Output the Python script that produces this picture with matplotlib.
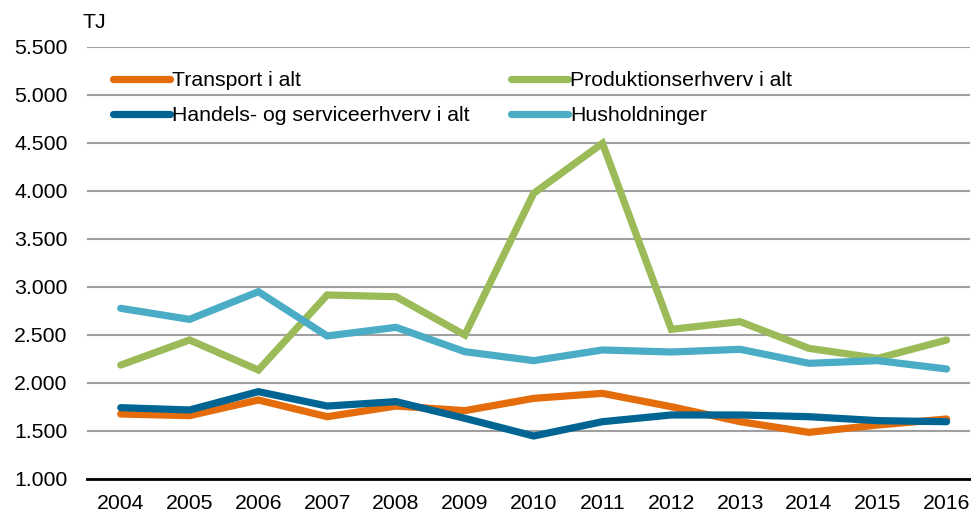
import matplotlib
matplotlib.use("Agg")
import matplotlib.pyplot as plt
from matplotlib.ticker import FuncFormatter

years = [str(y) for y in range(2004, 2017)]

transport = [1677, 1660, 1823, 1649, 1760, 1712, 1840, 1892, 1753, 1597, 1486, 1562, 1625]
produktion = [2187, 2448, 2135, 2917, 2899, 2500, 3976, 4497, 2559, 2639, 2361, 2257, 2448]
handel = [1743, 1719, 1910, 1760, 1806, 1632, 1448, 1597, 1667, 1667, 1649, 1608, 1597]
husholdninger = [2778, 2663, 2951, 2490, 2580, 2326, 2233, 2344, 2323, 2351, 2205, 2233, 2146]

labels = ["Transport i alt", "Handels- og serviceerhverv i alt",
          "Produktionserhverv i alt", "Husholdninger"]
colors = ["#E46C0A", "#006593", "#9BBB59", "#4BACC6"]

plt.rcParams["font.family"] = ["Liberation Sans", "DejaVu Sans"]
plt.rcParams["font.size"] = 15.3


def main():
    fig = plt.figure(figsize=(9.71, 5.13), dpi=100)
    W, H = 971, 513
    ax = fig.add_axes([87 / W, 1 - 479 / H, (970 - 87) / W, (479 - 47) / H])

    x = list(range(len(years)))
    handles = []
    for data, lab, col in zip([transport, handel, produktion, husholdninger],
                              labels, colors):
        h, = ax.plot(x, data, color=col, lw=5.2, solid_capstyle="round",
                     solid_joinstyle="miter", label=lab)
        handles.append(h)

    ax.set_xlim(-0.49, 12.34)
    ax.set_ylim(1000, 5500)
    ax.set_yticks(range(1000, 5501, 500))
    ax.yaxis.set_major_formatter(
        FuncFormatter(lambda v, p: f"{v:,.0f}".replace(",", ".")))
    ax.set_xticks(x)
    ax.set_xticklabels(years)
    ax.tick_params(axis="y", length=0, pad=14, colors="#000000")
    ax.tick_params(axis="x", length=0, pad=11)

    for s in ["top", "right", "left"]:
        ax.spines[s].set_visible(False)
    ax.spines["bottom"].set_linewidth(2)
    ax.spines["bottom"].set_color("#000000")

    ax.grid(axis="y", color="#A0A0A0", lw=1.5)
    ax.set_axisbelow(True)

    fig.text(82 / W, 1 - 22 / H, "TJ", ha="left", va="center", fontsize=15.3)

    ax.legend(handles=handles, ncol=2, frameon=False,
              loc="upper left", bbox_to_anchor=(113 / W, 1 - 71 / H),
              bbox_transform=fig.transFigure,
              handlelength=2.68, handletextpad=0.1, labelspacing=0.76,
              columnspacing=1.95, borderpad=0, borderaxespad=0)

    fig.savefig("out.png", dpi=100)
    plt.close(fig)


if __name__ == "__main__":
    main()
